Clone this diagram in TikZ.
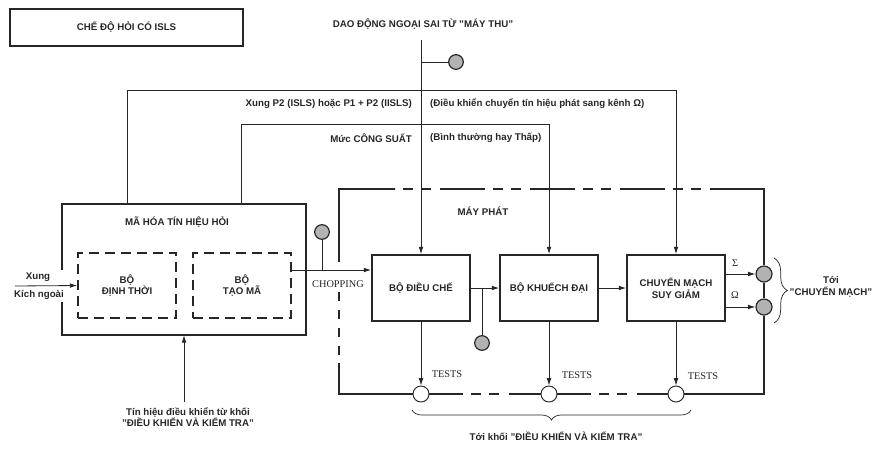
\documentclass[tikz,border=0pt]{standalone}
\usepackage{fontspec}
\setmainfont{Liberation Sans}
\newfontfamily\testfont{Liberation Serif}
\usetikzlibrary{positioning,arrows.meta,calc,decorations.pathreplacing}
\colorlet{ink}{black!85}
\colorlet{dotgray}{black!30}

\begin{document}
\begin{tikzpicture}[
    x=0.03cm, y=-0.03cm,
    every node/.style={font=\fontsize{8.3}{10}\selectfont\bfseries, text=ink},
    box/.style={draw=ink, line width=1.5pt, minimum width=2.94cm, minimum height=1.98cm, align=center},
    subbox/.style={draw=ink, line width=1.4pt, dash pattern=on 0.3cm off 0.18cm, minimum width=2.94cm, minimum height=1.95cm, align=center},
    gdot/.style={circle, draw=ink, line width=1pt, fill=dotgray, minimum size=0.44cm, inner sep=0pt},
    wdot/.style={circle, draw=ink, line width=0.8pt, fill=white, minimum size=0.48cm, inner sep=0pt},
    arr/.style={-{Latex[length=2.2mm,width=1.4mm]}, draw=ink, line width=0.7pt},
    wire/.style={draw=ink, line width=0.7pt},
    heavy/.style={draw=ink, line width=1.6pt},
    brk/.style={heavy, dash pattern=on 1.02cm off 0.24cm on 0.28cm off 0.26cm on 0.3cm off 0.3cm on 3cm},
    topbrk/.style={heavy, dash pattern=on 0.3cm off 0.24cm on 0.3cm off 0.27cm on 1.35cm off 0.24cm, dash phase=2.46cm},
    tst/.style={font=\fontsize{8.8}{10}\selectfont\testfont, text=ink}
  ]
    \useasboundingbox (0,0) rectangle (880,464);

    % blocks
    \node[draw=ink, line width=1.2pt, minimum width=6.99cm, minimum height=1.11cm] (title) at (126.5,27.5) {CHẾ ĐỘ HỎI CÓ ISLS};
    \node[minimum width=7.32cm, minimum height=3.93cm] (enc) at (184,269.5) {};
    \node (enclab) at (177,222) {MÃ HÓA TÍN HIỆU HỎI};
    \node[subbox] (tim) at (127,285.5) {BỘ\\ĐỊNH THỜI};
    \node[subbox] (cod) at (242,285.5) {BỘ\\TẠO MÃ};
    \node[box] (mod) at (421,288) {BỘ ĐIỀU CHẾ};
    \node[box] (amp) at (549,288) {BỘ KHUẾCH ĐẠI};
    \node[box] (sw) at (676,288) {CHUYỂN MẠCH\\SUY GIẢM};

    % dots
    \node[gdot] (oscd) at (456,62) {};
    \node[gdot] (chp) at (322,232) {};
    \node[gdot] (modd) at (482,343) {};
    \node[wdot] (t1) at (421,394) {};
    \node[wdot] (t2) at (549,394) {};
    \node[wdot] (t3) at (676,394) {};
    \node[gdot, minimum size=0.48cm] (sg) at (764,274) {};
    \node[gdot, minimum size=0.48cm] (om) at (764,307) {};

    \coordinate (osc) at (421,40);
    \coordinate (xin) at (15,286);
    \coordinate (ctl) at (184,402);
    \coordinate (top1) at (0,90);
    \coordinate (top2) at (0,124);
    \coordinate (chpy) at (0,270);

    % labels
    \node (osclab) at (423,24) {DAO ĐỘNG NGOẠI SAI TỪ "MÁY THU"};
    \node[anchor=east] (p2lab) at (416,104) {Xung P2 (ISLS) hoặc P1 + P2 (IISLS)};
    \node[anchor=west] (p2cmt) at (426,104) {(Điều khiển chuyển tín hiệu phát sang kênh Ω)};
    \node[anchor=east] (pwlab) at (416,138) {Mức CÔNG SUẤT};
    \node[anchor=west] (pwcmt) at (426,138) {(Bình thường hay Thấp)};
    \node (txlab) at (483,211) {MÁY PHÁT};
    \node (xung) at (38,277) {Xung};
    \node (kich) at (39,295) {Kích ngoài};
    \node[align=center] (ctllab) at (188,417) {Tín hiệu điều khiển từ khối\\"ĐIỀU KHIỂN VÀ KIỂM TRA"};
    \node[tst] (choplab) at (338,284) {CHOPPING};
    \node[tst] (ts1) at (447,374) {TESTS};
    \node[tst] (ts2) at (577,375) {TESTS};
    \node[tst] (ts3) at (703,376) {TESTS};
    \node[tst] (sglab) at (735,263) {Σ};
    \node[tst] (omlab) at (735,295) {Ω};
    \node[align=center] (outlab) at (831,287) {Tới\\"CHUYỂN MẠCH"};
    \node (testlab) at (556,436) {Tới khối "ĐIỀU KHIỂN VÀ KIỂM TRA"};

    % encoder frame, open where the trigger enters
    \draw[heavy] ($(enc.west |- tim.west)+(0,-16)$) |- (enc.north east) |- (enc.south west) -- ($(enc.west |- tim.west)+(0,16)$);

    % transmitter frame
    \draw[heavy] (339,262) |- (395,189);
    \draw[topbrk] (395,189) -- (710,189);
    \draw[heavy] (710,189) -| (sg);
    \draw[heavy] (sg) -- (om);
    \draw[heavy] (om) |- (t3);
    \draw[brk] (t1) -- (t2);
    \draw[brk] (t2) -- (t3);
    \draw[heavy, dash pattern=on 0.27cm off 0.27cm] (339,292) -- (339,363);
    \draw[heavy] (339,363) |- (t1);

    % signals
    \draw[arr] (osc) -- (mod);
    \draw[wire] (osc |- oscd) -- (oscd);
    \draw[arr] ([xshift=1.98cm]enc.north west) |- (sw.north |- top1) -- (sw.north);
    \draw[arr] ([xshift=5.4cm]enc.north west) |- (amp.north |- top2) -- (amp.north);
    \draw[arr] (xin) -- (tim.west);
    \draw[arr] (ctl) -- (enc.south);
    \draw[arr] (cod.east |- chpy) -- (mod.west |- chpy);
    \draw[wire] (chp) -- (chp |- chpy);
    \draw[arr] (mod) -- (amp);
    \draw[wire] (modd) -- (modd |- mod.east);
    \draw[arr] (amp) -- (sw);
    \draw[arr] (mod) -- (t1);
    \draw[arr] (amp) -- (t2);
    \draw[arr] (sw) -- (t3);
    \draw[arr] (sw.east |- sg) -- (sg);
    \draw[arr] (sw.east |- om) -- (om);

    % braces
    \draw[wire, line width=0.6pt, decorate, decoration={brace, amplitude=0.4cm}] (774,258) -- (774,323);
    \draw[wire, line width=0.6pt, decorate, decoration={brace, amplitude=0.3cm}] (691,410) -- (412,410);
  \end{tikzpicture}
\end{document}
